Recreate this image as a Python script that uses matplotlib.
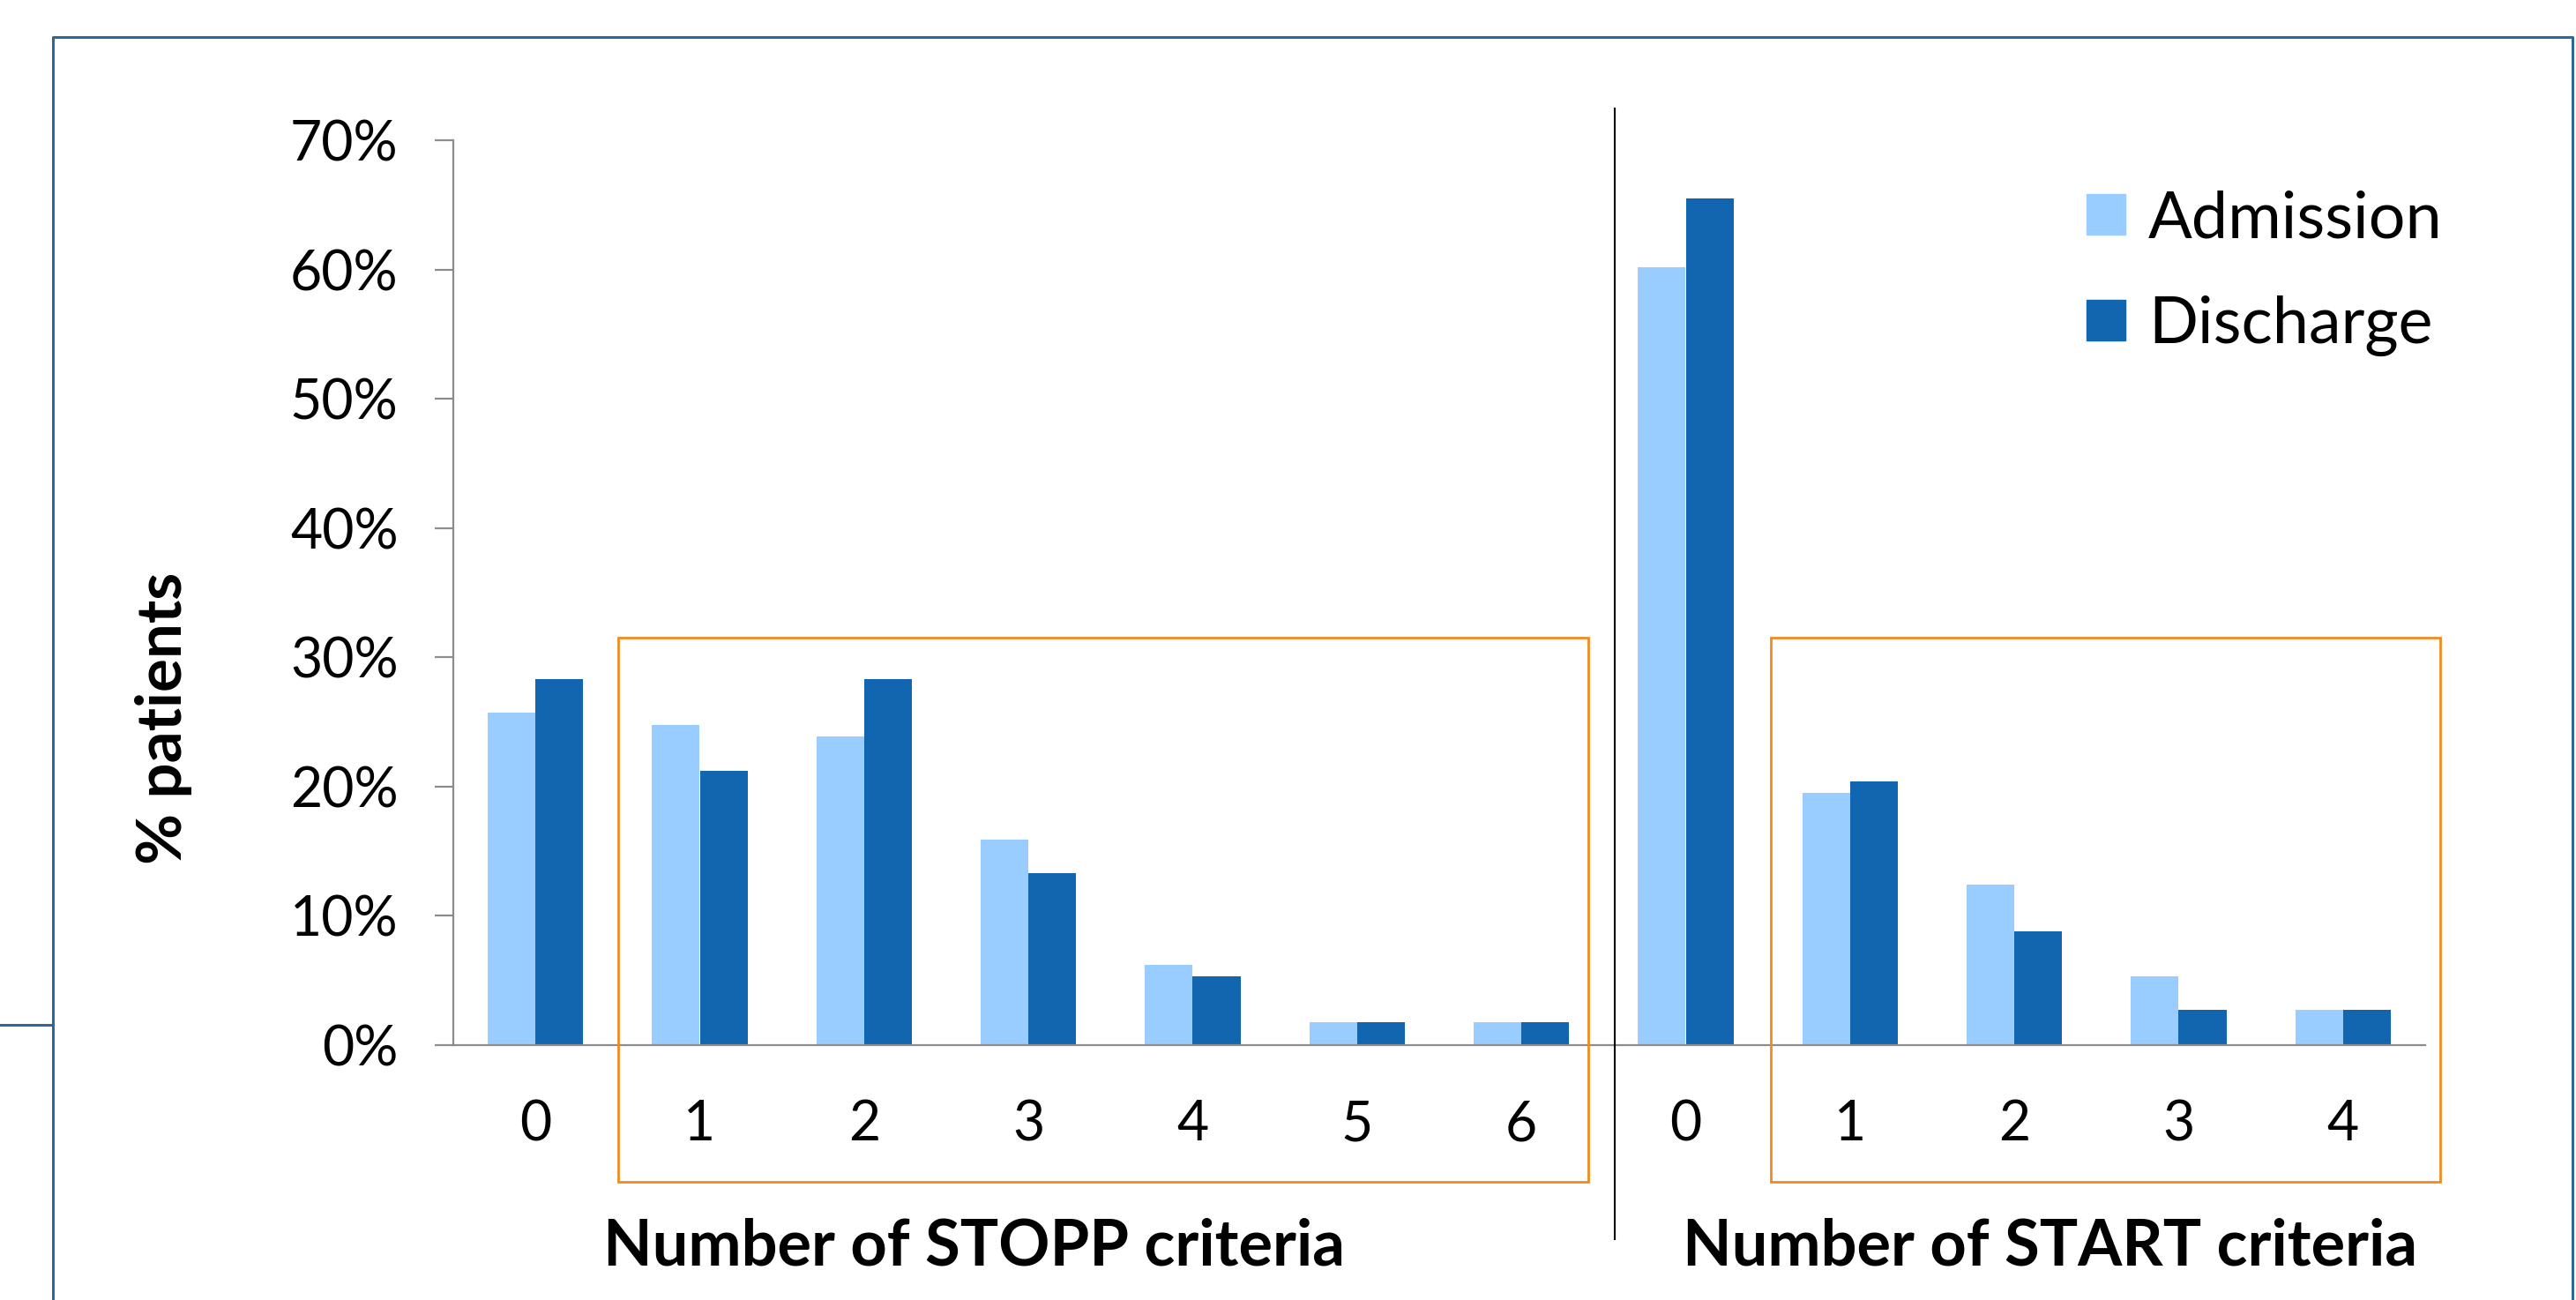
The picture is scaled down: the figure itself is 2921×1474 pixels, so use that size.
import matplotlib
matplotlib.use("Agg")
import matplotlib.pyplot as plt
import numpy as np
from matplotlib.patches import Rectangle, Patch
from matplotlib.lines import Line2D
from matplotlib.ticker import PercentFormatter

plt.rcParams['font.family'] = ['Lato', 'DejaVu Sans']

# data (share of patients)
stopp_labels = ['0', '1', '2', '3', '4', '5', '6']
start_labels = ['0', '1', '2', '3', '4']
stopp_admission = [0.257, 0.248, 0.239, 0.159, 0.062, 0.018, 0.018]
stopp_discharge = [0.283, 0.212, 0.283, 0.133, 0.053, 0.018, 0.018]
start_admission = [0.602, 0.195, 0.124, 0.053, 0.027]
start_discharge = [0.655, 0.204, 0.088, 0.027, 0.027]
series_names = ['Admission', 'Discharge']

LIGHT = '#99CCFF'
DARK = '#1265AF'
ORANGE = '#F28A1E'
FRAME = '#2E6898'
GREY = '#8C8C8C'

W, H = 2921, 1474
fig = plt.figure(figsize=(W / 100, H / 100), dpi=100)


def fx(x):
    return x / W


def fy(y):
    return 1 - y / H


ax = fig.add_axes([fx(514), fy(1185), fx(2750) - fx(514), fy(159) - fy(1185)])

labels = stopp_labels + start_labels
adm = stopp_admission + start_admission
dis = stopp_discharge + start_discharge
x = np.arange(len(labels))
w = 0.29
ax.bar(x - w / 2, adm, w, color=LIGHT, label=series_names[0])
ax.bar(x + w / 2, dis, w, color=DARK, label=series_names[1])

ax.set_xlim(-0.5, len(labels) - 0.5)
ax.set_ylim(0, 0.70)
ax.set_yticks(np.arange(0, 0.71, 0.1))
ax.yaxis.set_major_formatter(PercentFormatter(1.0, decimals=0))
ax.set_xticks(x)
ax.set_xticklabels(labels)

for s in ['top', 'right']:
    ax.spines[s].set_visible(False)
for s in ['left', 'bottom']:
    ax.spines[s].set_color(GREY)
    ax.spines[s].set_linewidth(1.6)
ax.tick_params(axis='y', direction='out', length=15, width=1.6, color=GREY,
               labelsize=45, pad=30)
ax.tick_params(axis='x', length=0, labelsize=45, pad=44)

# legend
ax.legend(handles=[Patch(color=LIGHT), Patch(color=DARK)], labels=series_names,
          loc='upper left', bbox_to_anchor=(fx(2366), fy(215)),
          bbox_transform=fig.transFigure, frameon=False, fontsize=53,
          handlelength=0.6, handleheight=0.6, handletextpad=0.35,
          labelspacing=0.72, borderpad=0, borderaxespad=0)

# axis titles
fig.text(fx(186), fy(814), '% patients', rotation=90, ha='center', va='center',
         fontsize=51, fontweight='bold')
fig.text(fx(1105), fy(1414), 'Number of STOPP criteria', ha='center', va='center',
         fontsize=52, fontweight='bold')
fig.text(fx(2325), fy(1414), 'Number of START criteria', ha='center', va='center',
         fontsize=52, fontweight='bold')

# separator between the two groups
fig.add_artist(Line2D([fx(1831), fx(1831)], [fy(123), fy(1405)], color='black', lw=1.5))

# orange boxes around the 1+ categories
for x0, x1 in [(701, 1801), (2008, 2767)]:
    fig.add_artist(Rectangle((fx(x0), fy(1340)), fx(x1) - fx(x0), fy(723) - fy(1340),
                             fill=False, edgecolor=ORANGE, lw=2))

# slide frame
fig.add_artist(Line2D([fx(60), fx(60), fx(2917), fx(2917)], [0, fy(42), fy(42), 0],
                      color=FRAME, lw=2.2))
fig.add_artist(Line2D([0, fx(60)], [fy(1162), fy(1162)], color=FRAME, lw=2.2))

fig.savefig('out.png', dpi=100)
